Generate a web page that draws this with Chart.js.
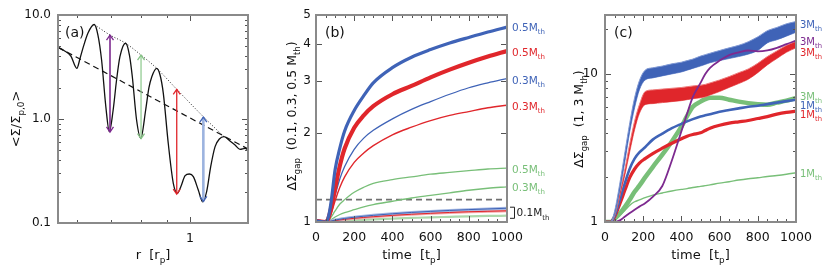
<!DOCTYPE html>
<html><head><meta charset="utf-8">
<script src="https://cdn.jsdelivr.net/npm/chart.js@4/dist/chart.umd.min.js"></script>
<style>
html,body{margin:0;padding:0;background:#fff;}
body{width:830px;height:265px;position:relative;overflow:hidden;}
canvas{position:absolute;top:0;}
</style></head><body>
<canvas id="ca" width="270" height="265" style="left:0px"></canvas>
<canvas id="cb" width="290" height="265" style="left:270px"></canvas>
<canvas id="cc" width="270" height="265" style="left:560px"></canvas>
<script>
// ================= Panel (a): <Sigma/Sigma_p,0> vs r =================
const profileR = [0.550,0.565,0.583,0.599,0.608,0.617,0.630,0.648,0.659,0.670,0.683,0.694,0.706,0.717,0.728,0.747,0.760,0.770,0.785,0.800,0.818,0.830,0.841,0.860,0.873,0.886,0.906,0.927,0.944,0.959,0.978,0.997,1.015,1.038,1.059,1.078,1.098,1.120,1.142,1.166,1.198,1.226,1.254,1.283,1.300];
const profileSigma = [4.89,4.56,4.03,3.07,3.86,4.96,6.71,8.10,6.42,3.69,1.313,0.755,1.221,2.371,3.97,5.35,4.12,2.551,0.978,0.652,1.221,1.987,2.551,3.07,2.649,1.766,0.584,0.241,0.193,0.2234,0.285,0.296,0.279,0.2077,0.160,0.200,0.348,0.542,0.642,0.676,0.614,0.562,0.511,0.523,0.503];
const powerLawR = [0.55, 1.30];
const powerLawSigma = [4.89, 0.515];
const peakEnvR = [0.648, 0.696, 0.747, 0.801, 0.860, 0.9415, 1.062, 1.166];
const peakEnvSigma = [8.10, 6.42, 5.35, 4.12, 3.07, 1.93, 1.052, 0.676];
const arrowR = [0.696, 0.801, 0.9415, 1.062];
const arrowLow = [0.750, 0.649, 0.190, 0.161];
const arrowHigh = [6.42, 4.12, 1.93, 1.045];
const aXTicks = [1], aXLabels = ['1'];
const aXMinor = [0.6, 0.7, 0.8, 0.9];
const aYTicks = [0.1, 1, 10], aYLabels = ['0.1', '1.0', '10.0'];
const aYMinor = [0.2,0.3,0.4,0.5,0.6,0.7,0.8,0.9,2,3,4,5,6,7,8,9];

// ================= Panel (b): Delta Sigma_gap, 0.1/0.3/0.5 M_th =================
const timeB = [0,50,65,80,100,125,150,200,250,300,400,500,600,700,800,900,1000];
const gapB05blue  = [1.01,1.00,1.04,1.18,1.50,1.78,2.03,2.38,2.67,2.95,3.32,3.60,3.82,4.02,4.20,4.38,4.55];
const gapB05red   = [1.01,1.00,1.03,1.12,1.30,1.55,1.77,2.08,2.29,2.46,2.70,2.88,3.08,3.27,3.45,3.62,3.78];
const gapB03blue  = [1.01,1.00,1.02,1.09,1.23,1.40,1.54,1.76,1.92,2.04,2.23,2.40,2.55,2.70,2.84,2.95,3.05];
const gapB03red   = [1.01,1.00,1.02,1.07,1.18,1.31,1.42,1.59,1.71,1.81,1.97,2.09,2.20,2.29,2.36,2.43,2.48];
const gapB05green = [1.01,1.00,1.01,1.04,1.09,1.15,1.19,1.26,1.31,1.35,1.39,1.42,1.45,1.47,1.49,1.51,1.52];
const gapB03green = [1.01,1.00,1.005,1.02,1.04,1.06,1.075,1.10,1.125,1.145,1.175,1.205,1.23,1.255,1.28,1.30,1.315];
const gapB01blue  = [1.01,1.00,1.003,1.008,1.015,1.022,1.028,1.038,1.046,1.053,1.066,1.077,1.086,1.094,1.101,1.107,1.113];
const gapB01red   = [1.01,1.00,1.002,1.006,1.011,1.016,1.021,1.029,1.036,1.042,1.053,1.062,1.070,1.077,1.083,1.087,1.091];
const gapB01green = [1.01,1.00,1.001,1.003,1.005,1.007,1.009,1.013,1.017,1.021,1.027,1.032,1.037,1.041,1.045,1.048,1.050];
const thresholdB = 1.19;
const bXTicks = [0,200,400,600,800,1000], bXLabels = ['0','200','400','600','800','1000'];
const bXMinor = [50,100,150,250,300,350,450,500,550,650,700,750,850,900,950];
const bYTicks = [1,2,3,4,5], bYLabels = ['1','2','3','4','5'];

// ================= Panel (c): Delta Sigma_gap, 1/3 M_th =================
const timeC = [0,30,50,80,105,130,155,180,210,250,300,350,400,430,460,500,525,550,600,650,700,750,800,850,900,950,1000];
const gapC3blueHi = [1.0,1.0,1.18,1.9,3.0,4.7,6.9,9.0,10.6,11.0,11.3,11.7,12.0,12.3,12.6,13.2,13.5,13.8,14.4,15.0,15.6,16.5,17.8,19.6,20.6,21.8,22.6];
const gapC3blueLo = [1.0,1.0,1.12,1.7,2.6,4.1,5.9,7.8,9.1,9.4,9.7,10.0,10.3,10.6,10.9,11.3,11.6,11.9,12.3,12.7,13.1,13.6,14.4,16.2,17.0,18.0,19.1];
const gapC3redHi  = [1.0,1.0,1.14,1.66,2.3,3.4,4.8,6.2,7.6,7.8,7.9,8.0,8.1,8.2,8.3,8.4,8.5,8.7,9.1,9.6,10.2,10.8,11.8,13.1,14.3,15.6,16.6];
const gapC3redLo  = [1.0,1.0,1.10,1.54,2.1,3.0,4.2,5.4,6.2,6.3,6.4,6.5,6.6,6.7,6.8,6.9,7.0,7.2,7.6,8.1,8.6,9.2,10.2,11.5,12.7,14.0,15.0];
const gapC3purple = [1.0,1.0,1.0,1.03,1.09,1.15,1.21,1.27,1.34,1.48,1.75,2.6,4.1,5.4,7.0,8.7,10.0,11.0,12.3,13.4,14.0,14.4,14.2,14.4,15.0,15.9,16.8];
const gapC3green  = [1.0,1.0,1.05,1.15,1.27,1.42,1.6,1.76,2.0,2.35,2.85,3.5,4.4,5.2,6.0,6.5,6.75,6.9,6.9,6.7,6.5,6.35,6.25,6.2,6.4,6.6,6.9];
const gapC1blue   = [1.0,1.0,1.1,1.45,1.85,2.3,2.68,2.95,3.2,3.6,3.95,4.3,4.6,4.78,4.95,5.15,5.25,5.35,5.55,5.7,5.85,6.0,6.1,6.25,6.4,6.55,6.7];
const gapC1red    = [1.0,1.0,1.08,1.35,1.65,2.0,2.28,2.5,2.68,2.9,3.15,3.4,3.65,3.8,3.9,4.0,4.15,4.3,4.5,4.65,4.75,4.85,5.0,5.15,5.35,5.5,5.6];
const gapC1green  = [1.0,1.0,1.03,1.12,1.2,1.3,1.37,1.41,1.46,1.52,1.57,1.62,1.66,1.68,1.71,1.74,1.76,1.78,1.83,1.87,1.92,1.96,1.99,2.03,2.06,2.10,2.15];
const cYTicks = [1,10], cYLabels = ['1','10'];
const cYMinor = [2,3,4,5,6,7,8,9,20];

// ================= styling / helpers =================
const BLUE='#3f63b7', BLUE_L='#a3b7e2', BLUE_M='#8099d4', RED='#e0262b', RED_L='#f3a5a5', RED_M='#ee7b7b',
      GREEN='#78bf78', GREEN_L='#acd9ac', PURPLE='#7d2a8f';
Chart.defaults.font.family = '"DejaVu Sans", sans-serif';

function S(xs, ys, color, width, extra){
  return Object.assign({data: xs.map((v,i)=>({x:v, y:ys[i]})), showLine:true, borderColor:color,
    backgroundColor:color, borderWidth:width, pointRadius:0, pointHoverRadius:0, fill:false,
    cubicInterpolationMode:'monotone'}, extra||{});
}
function seg(ctx,x1,y1,x2,y2){ctx.beginPath();ctx.moveTo(x1,y1);ctx.lineTo(x2,y2);ctx.stroke();}
function rich(ctx, x, y, parts, size, color, align, rot){
  ctx.save(); ctx.translate(x,y); if(rot) ctx.rotate(rot);
  ctx.fillStyle=color; ctx.textBaseline='alphabetic'; ctx.textAlign='left';
  const segs = parts.map(p=>{const s = typeof p==='string'? {t:p}:p; const fs = s.sub? size*0.68 : size;
    ctx.font = fs.toFixed(1)+'px "DejaVu Sans"'; return {t:s.t, sub:!!s.sub, fs, w:ctx.measureText(s.t).width};});
  const W = segs.reduce((a,s)=>a+s.w,0);
  let cx = align==='center' ? -W/2 : align==='right' ? -W : 0;
  segs.forEach(s=>{ctx.font=s.fs.toFixed(1)+'px "DejaVu Sans"'; ctx.fillText(s.t,cx,s.sub? size*0.3:0); cx+=s.w;});
  ctx.restore();
}
function frameAndTicks(chart, xMaj, xMin, yMaj, yMin){
  const {ctx, chartArea:a} = chart; const xs=chart.scales.x, ys=chart.scales.y;
  ctx.strokeStyle='#555'; ctx.lineWidth=1;
  const xt=(vals,len)=>vals.forEach(v=>{const p=Math.round(xs.getPixelForValue(v))+0.5; seg(ctx,p,a.bottom,p,a.bottom-len); seg(ctx,p,a.top,p,a.top+len);});
  const yt=(vals,len)=>vals.forEach(v=>{const p=Math.round(ys.getPixelForValue(v))+0.5; seg(ctx,a.left,p,a.left+len,p); seg(ctx,a.right,p,a.right-len,p);});
  xt(xMaj,6); xt(xMin,3); yt(yMaj,6); yt(yMin,3);
  ctx.strokeStyle='#8a8a8a'; ctx.lineWidth=2;
  ctx.strokeRect(a.left,a.top,a.right-a.left,a.bottom-a.top);
}
const decor = {
  ca(chart){
    const {ctx, chartArea:a} = chart; const x=chart.scales.x, y=chart.scales.y;
    const shaft=[PURPLE,'#93cc93',RED,'#9cb3df'], head=[PURPLE,'#86c486',RED,'#4264b6'], w=[1.6,1.3,1.3,2.6];
    arrowR.forEach((r,i)=>{
      const px=x.getPixelForValue(r), y1=y.getPixelForValue(arrowLow[i]), y2=y.getPixelForValue(arrowHigh[i]);
      ctx.strokeStyle=shaft[i]; ctx.lineWidth=w[i]; seg(ctx,px,y1,px,y2);
      ctx.strokeStyle=head[i]; ctx.lineWidth=1.3;
      ctx.beginPath(); ctx.moveTo(px-3.5,y2+5); ctx.lineTo(px,y2); ctx.lineTo(px+3.5,y2+5); ctx.stroke();
      ctx.beginPath(); ctx.moveTo(px-3.5,y1-5); ctx.lineTo(px,y1); ctx.lineTo(px+3.5,y1-5); ctx.stroke();
    });
    frameAndTicks(chart, aXTicks, aXMinor, aYTicks, aYMinor);
    rich(ctx, a.left+7, a.top+22, ['(a)'], 14, '#111', 'left');
    rich(ctx, (a.left+a.right)/2, 259, ['r  [r', {t:'p',sub:1}, ']'], 13, '#111', 'center');
    rich(ctx, 20, (a.top+a.bottom)/2, ['<Σ/Σ', {t:'p,0',sub:1}, '>'], 13, '#111', 'center', -Math.PI/2);
  },
  cb(chart){
    const {ctx, chartArea:a} = chart; const y=chart.scales.y;
    frameAndTicks(chart, bXTicks, bXMinor, bYTicks, []);
    rich(ctx, a.left+9, a.top+22, ['(b)'], 14, '#111', 'left');
    rich(ctx, (a.left+a.right)/2, 259, ['time  [t', {t:'p',sub:1}, ']'], 13, '#111', 'center');
    rich(ctx, 26, 116, ['ΔΣ', {t:'gap',sub:1}, '  (0.1, 0.3, 0.5 M', {t:'th',sub:1}, ')'], 12.5, '#111', 'center', -Math.PI/2);
    const labs=[[4.54,'0.5',BLUE],[3.74,'0.5',RED],[3.02,'0.3',BLUE],[2.46,'0.3',RED],[1.51,'0.5',GREEN],[1.31,'0.3',GREEN]];
    labs.forEach(l=>rich(ctx, a.right+5, y.getPixelForValue(l[0])+3.8, [l[1]+'M', {t:'th',sub:1}], 10.5, l[2], 'left'));
    const yt=y.getPixelForValue(1.122), yb=y.getPixelForValue(1.029), bx=a.right+6;
    ctx.strokeStyle='#222'; ctx.lineWidth=1;
    ctx.beginPath(); ctx.moveTo(bx-3,yt); ctx.lineTo(bx+1.5,yt); ctx.lineTo(bx+1.5,yb); ctx.lineTo(bx-3,yb); ctx.stroke();
    rich(ctx, bx+3.5, y.getPixelForValue(1.076)+3.8, ['0.1M', {t:'th',sub:1}], 10.5, '#222', 'left');
  },
  cc(chart){
    const {ctx, chartArea:a} = chart; const y=chart.scales.y;
    frameAndTicks(chart, bXTicks, bXMinor, cYTicks, cYMinor);
    rich(ctx, a.left+9, a.top+22, ['(c)'], 14, '#111', 'left');
    rich(ctx, (a.left+a.right)/2, 259, ['time  [t', {t:'p',sub:1}, ']'], 13, '#111', 'center');
    rich(ctx, 23, 119, ['ΔΣ', {t:'gap',sub:1}, '  (1, 3 M', {t:'th',sub:1}, ')'], 12.5, '#111', 'center', -Math.PI/2);
    const labs=[[21.6,'3',BLUE],[16.6,'3',PURPLE],[14.0,'3',RED],[7.05,'3',GREEN],[6.1,'1',BLUE],[5.3,'1',RED],[2.14,'1',GREEN]];
    labs.forEach(l=>rich(ctx, a.right+4, y.getPixelForValue(l[0])+3.6, [l[1]+'M', {t:'th',sub:1}], 10, l[2], 'left'));
  }
};
const decorPlugin = {id:'decor', afterDraw(chart){ const f=decor[chart.canvas.id]; if(f){chart.ctx.save(); f(chart); chart.ctx.restore();} }};

function opts(o){
  return {
    responsive:false, animation:false, events:[],
    layout:{padding:{left:0, right:o.padR, top:15, bottom:0}},
    plugins:{legend:{display:false}, tooltip:{enabled:false}},
    scales:{
      x:{type:o.xType, min:o.xMin, max:o.xMax, grid:{display:false, drawTicks:false}, border:{display:false},
         afterFit:s=>{s.height=o.xH;}, afterBuildTicks:s=>{s.ticks=o.xTicks.map(v=>({value:v}));},
         ticks:{autoSkip:false, maxRotation:0, padding:8, color:'#111', font:{size:12.5}, callback:(v,i)=>o.xLabels[i]}},
      y:{type:'logarithmic', min:o.yMin, max:o.yMax, grid:{display:false, drawTicks:false}, border:{display:false},
         afterFit:s=>{s.width=o.yW;}, afterBuildTicks:s=>{s.ticks=o.yTicks.map(v=>({value:v}));},
         ticks:{autoSkip:false, padding:o.yPad, color:'#111', font:{size:12}, callback:(v,i)=>o.yLabels[i]}}
    }
  };
}

new Chart(document.getElementById('ca'), {
  type:'scatter',
  data:{datasets:[
    S(profileR, profileSigma, '#111', 1.3),
    S(powerLawR, powerLawSigma, '#111', 1.2, {borderDash:[6,4], cubicInterpolationMode:'default'}),
    S(peakEnvR, peakEnvSigma, '#222', 1, {borderDash:[1,2]})
  ]},
  options:opts({padR:22, xType:'logarithmic', xMin:0.55, xMax:1.30, xH:42, xTicks:aXTicks, xLabels:aXLabels,
    yMin:0.1, yMax:10, yW:58, yPad:7, yTicks:aYTicks, yLabels:aYLabels}),
  plugins:[decorPlugin]
});

new Chart(document.getElementById('cb'), {
  type:'scatter',
  data:{datasets:[
    S(timeB, gapB05blue, BLUE, 3.2),
    S(timeB, gapB05red, RED, 4.2),
    S(timeB, gapB03blue, BLUE, 1.3),
    S(timeB, gapB03red, RED, 1.4),
    S(timeB, gapB01blue, BLUE, 1.0),
    S(timeB, gapB01red, RED, 1.0),
    S(timeB, gapB01blue, BLUE_L, 3),
    S(timeB, gapB01red, RED_L, 3),
    S(timeB, gapB05green, GREEN, 1.3),
    S(timeB, gapB03green, GREEN, 1.3),
    S(timeB, gapB01green, GREEN_L, 2.2),
    S([0,1000], [thresholdB, thresholdB], '#707070', 1.6, {borderDash:[6,4]})
  ]},
  options:opts({padR:53, xType:'linear', xMin:0, xMax:1000, xH:43, xTicks:bXTicks, xLabels:bXLabels,
    yMin:1, yMax:5, yW:46, yPad:5, yTicks:bYTicks, yLabels:bYLabels}),
  plugins:[decorPlugin]
});

new Chart(document.getElementById('cc'), {
  type:'scatter',
  data:{datasets:[
    S(timeC, gapC3purple, PURPLE, 1.8),
    S(timeC, gapC3blueHi, BLUE_M, 1, {fill:'+1', backgroundColor:BLUE}),
    S(timeC, gapC3blueLo, BLUE_M, 1),
    S(timeC, gapC3redHi, RED_M, 1, {fill:'+1', backgroundColor:RED}),
    S(timeC, gapC3redLo, RED_M, 1),
    S(timeC, gapC1blue, BLUE, 2.6),
    S(timeC, gapC1red, RED, 3.2),
    S(timeC, gapC3green, GREEN, 4.5),
    S(timeC, gapC1green, GREEN, 1.4)
  ]},
  options:opts({padR:34, xType:'linear', xMin:0, xMax:1000, xH:43, xTicks:bXTicks, xLabels:bXLabels,
    yMin:1, yMax:25, yW:45, yPad:7, yTicks:cYTicks, yLabels:cYLabels}),
  plugins:[decorPlugin]
});
</script></body></html>
